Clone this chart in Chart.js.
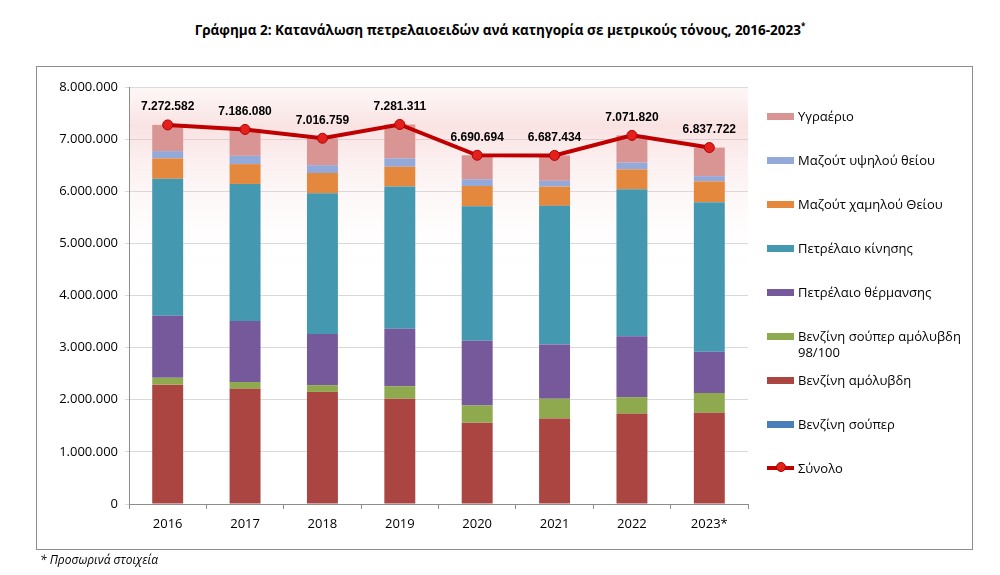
<!DOCTYPE html>
<html lang="el">
<head>
<meta charset="utf-8">
<script src="https://cdn.jsdelivr.net/npm/chart.js@4.4.1/dist/chart.umd.min.js"></script>
<style>
  body { margin: 0; background: #fff; font-family: "Open Sans", sans-serif; }
  #page { position: relative; width: 1000px; height: 575px; overflow: hidden; }
  #title { position: absolute; top: 20px; left: 0; width: 1000px; text-align: center; font-weight: bold; font-size: 13.5px; color: #000; }
  #title sup { font-size: 8px; }
  #frame { position: absolute; left: 36px; top: 66px; width: 935px; height: 482px; border: 1px solid #8c8c8c; }
  #chart { position: absolute; left: 0; top: 0; }
  .item { position: absolute; left: 767px; font-size: 13px; line-height: 16px; color: #000; white-space: nowrap; }
  .item .box { position: absolute; left: 0; top: 5px; width: 27px; height: 7px; }
  .item .t { display: block; margin-left: 31px; }
  #note { position: absolute; left: 40px; top: 551px; font-style: italic; font-size: 12px; color: #000; }
</style>
</head>
<body>
<div id="page">
  <div id="title">Γράφημα 2: Κατανάλωση πετρελαιοειδών ανά κατηγορία σε μετρικούς τόνους, 2016-2023<sup>*</sup></div>
  <div id="frame"></div>
  <canvas id="chart" width="1000" height="575"></canvas>
  <div id="legend"></div>
  <div id="note">* Προσωρινά στοιχεία</div>
</div>
<script>
const years = ['2016', '2017', '2018', '2019', '2020', '2021', '2022', '2023*'];

// metric tonnes
const benzSuper      = [0, 0, 0, 0, 0, 0, 0, 0];
const benzAmolyvdi   = [2290000, 2210000, 2150000, 2020000, 1560000, 1640000, 1730000, 1750000];
const benzSuper98    = [130000, 130000, 130000, 240000, 330000, 380000, 320000, 380000];
const petrThermansis = [1190000, 1170000, 980000, 1100000, 1240000, 1040000, 1170000, 790000];
const petrKinisis    = [2630000, 2630000, 2700000, 2730000, 2580000, 2660000, 2820000, 2870000];
const mazoutXamilou  = [390000, 380000, 390000, 380000, 390000, 370000, 380000, 400000];
const mazoutYpsilou  = [140000, 160000, 150000, 160000, 130000, 110000, 130000, 100000];
const ygraerio       = [502582, 506080, 516759, 651311, 460694, 487434, 521820, 547722];
const synolo         = [7272582, 7186080, 7016759, 7281311, 6690694, 6687434, 7071820, 6837722];

const yTicks = [0, 1000000, 2000000, 3000000, 4000000, 5000000, 6000000, 7000000, 8000000];

function fmt(v) {
  return String(Math.round(v)).replace(/\B(?=(\d{3})+(?!\d))/g, '.');
}

function bar(label, data, color) {
  return { type: 'bar', label, data, backgroundColor: color, stack: 'fuels', order: 1,
    barPercentage: 0.4, categoryPercentage: 1 };
}

const datasets = [
  { type: 'line', label: 'Σύνολο', data: synolo, stack: 'total', order: 0,
    borderColor: '#c00000', borderWidth: 4, pointRadius: 5, pointBackgroundColor: '#e3201c',
    pointBorderColor: '#b00000', pointBorderWidth: 1, tension: 0 },
  bar('Βενζίνη σούπερ', benzSuper, '#4a7ebb'),
  bar('Βενζίνη αμόλυβδη', benzAmolyvdi, '#ab4542'),
  bar('Βενζίνη σούπερ αμόλυβδη 98/100', benzSuper98, '#8faa4e'),
  bar('Πετρέλαιο θέρμανσης', petrThermansis, '#76599a'),
  bar('Πετρέλαιο κίνησης', petrKinisis, '#4499b0'),
  bar('Μαζούτ χαμηλού Θείου', mazoutXamilou, '#e3883c'),
  bar('Μαζούτ υψηλού θείου', mazoutYpsilou, '#93a9d9'),
  bar('Υγραέριο', ygraerio, '#d99594')
];

// soft pink glow behind the total line
const glow = {
  id: 'glow',
  beforeDatasetsDraw(chart) {
    const { ctx, chartArea: a } = chart;
    const h = 190;
    const g = ctx.createLinearGradient(0, a.top, 0, a.top + h);
    g.addColorStop(0, 'rgba(248,215,215,0.2)');
    g.addColorStop(0.2, 'rgba(240,175,175,0.36)');
    g.addColorStop(0.45, 'rgba(242,192,192,0.2)');
    g.addColorStop(1, 'rgba(255,255,255,0)');
    ctx.save();
    ctx.fillStyle = g;
    ctx.fillRect(a.left + 1, a.top, a.right - a.left - 1, h);
    ctx.restore();
  }
};

const totalLabels = {
  id: 'totalLabels',
  afterDatasetsDraw(chart) {
    const { ctx } = chart;
    const meta = chart.getDatasetMeta(0);
    ctx.save();
    ctx.font = 'bold 12px "Liberation Sans", sans-serif';
    ctx.fillStyle = '#000';
    ctx.textAlign = 'center';
    ctx.textBaseline = 'middle';
    meta.data.forEach((pt, i) => {
      ctx.fillText(fmt(synolo[i]), pt.x, pt.y - 18);
    });
    ctx.restore();
  }
};

new Chart(document.getElementById('chart'), {
  data: { labels: years, datasets },
  options: {
    responsive: false,
    animation: false,
    layout: { padding: { left: 40, right: 252, top: 87, bottom: 41 } },
    plugins: { legend: { display: false }, tooltip: { enabled: false } },
    scales: {
      x: {
        stacked: true,
        grid: { drawOnChartArea: false, tickLength: 5, color: '#8c8c8c', offset: true },
        border: { color: '#8c8c8c' },
        ticks: { color: '#000', font: { family: 'Open Sans', size: 13 }, padding: 7 },
        afterFit(s) { s.height = 30; }
      },
      y: {
        stacked: true,
        min: 0,
        max: 8000000,
        afterBuildTicks(s) { s.ticks = yTicks.map(v => ({ value: v })); },
        ticks: { color: '#000', font: { family: 'Open Sans', size: 13 }, padding: 7, callback: v => fmt(v) },
        grid: { color: '#d9d9d9', tickLength: 4 },
        border: { color: '#8c8c8c' },
        afterFit(s) { s.width = 89; }
      }
    }
  },
  plugins: [glow, totalLabels]
});

// legend, top to bottom: bars in reverse stacking order, then the total line
const legendEl = document.getElementById('legend');
const legendOrder = datasets.slice(1).reverse().concat([datasets[0]]);
legendOrder.forEach((ds, i) => {
  const item = document.createElement('div');
  item.className = 'item';
  item.style.top = (116 + i * 44 - 8) + 'px';
  const box = document.createElement('span');
  box.className = 'box';
  if (ds.type === 'line') {
    box.style.top = '6px';
    box.style.height = '4px';
    box.style.background = '#c00000';
    const dot = document.createElement('span');
    dot.style.cssText = 'position:absolute;left:9px;top:-4px;width:10px;height:10px;border-radius:50%;background:#e3201c;box-sizing:border-box;border:1px solid #b00000;';
    box.appendChild(dot);
  } else {
    box.style.background = ds.backgroundColor;
  }
  const t = document.createElement('span');
  t.className = 't';
  if (ds.label === 'Βενζίνη σούπερ αμόλυβδη 98/100') {
    t.innerHTML = 'Βενζίνη σούπερ αμόλυβδη<br>98/100';
  } else {
    t.textContent = ds.label;
  }
  item.appendChild(box);
  item.appendChild(t);
  legendEl.appendChild(item);
});
</script>
</body>
</html>
